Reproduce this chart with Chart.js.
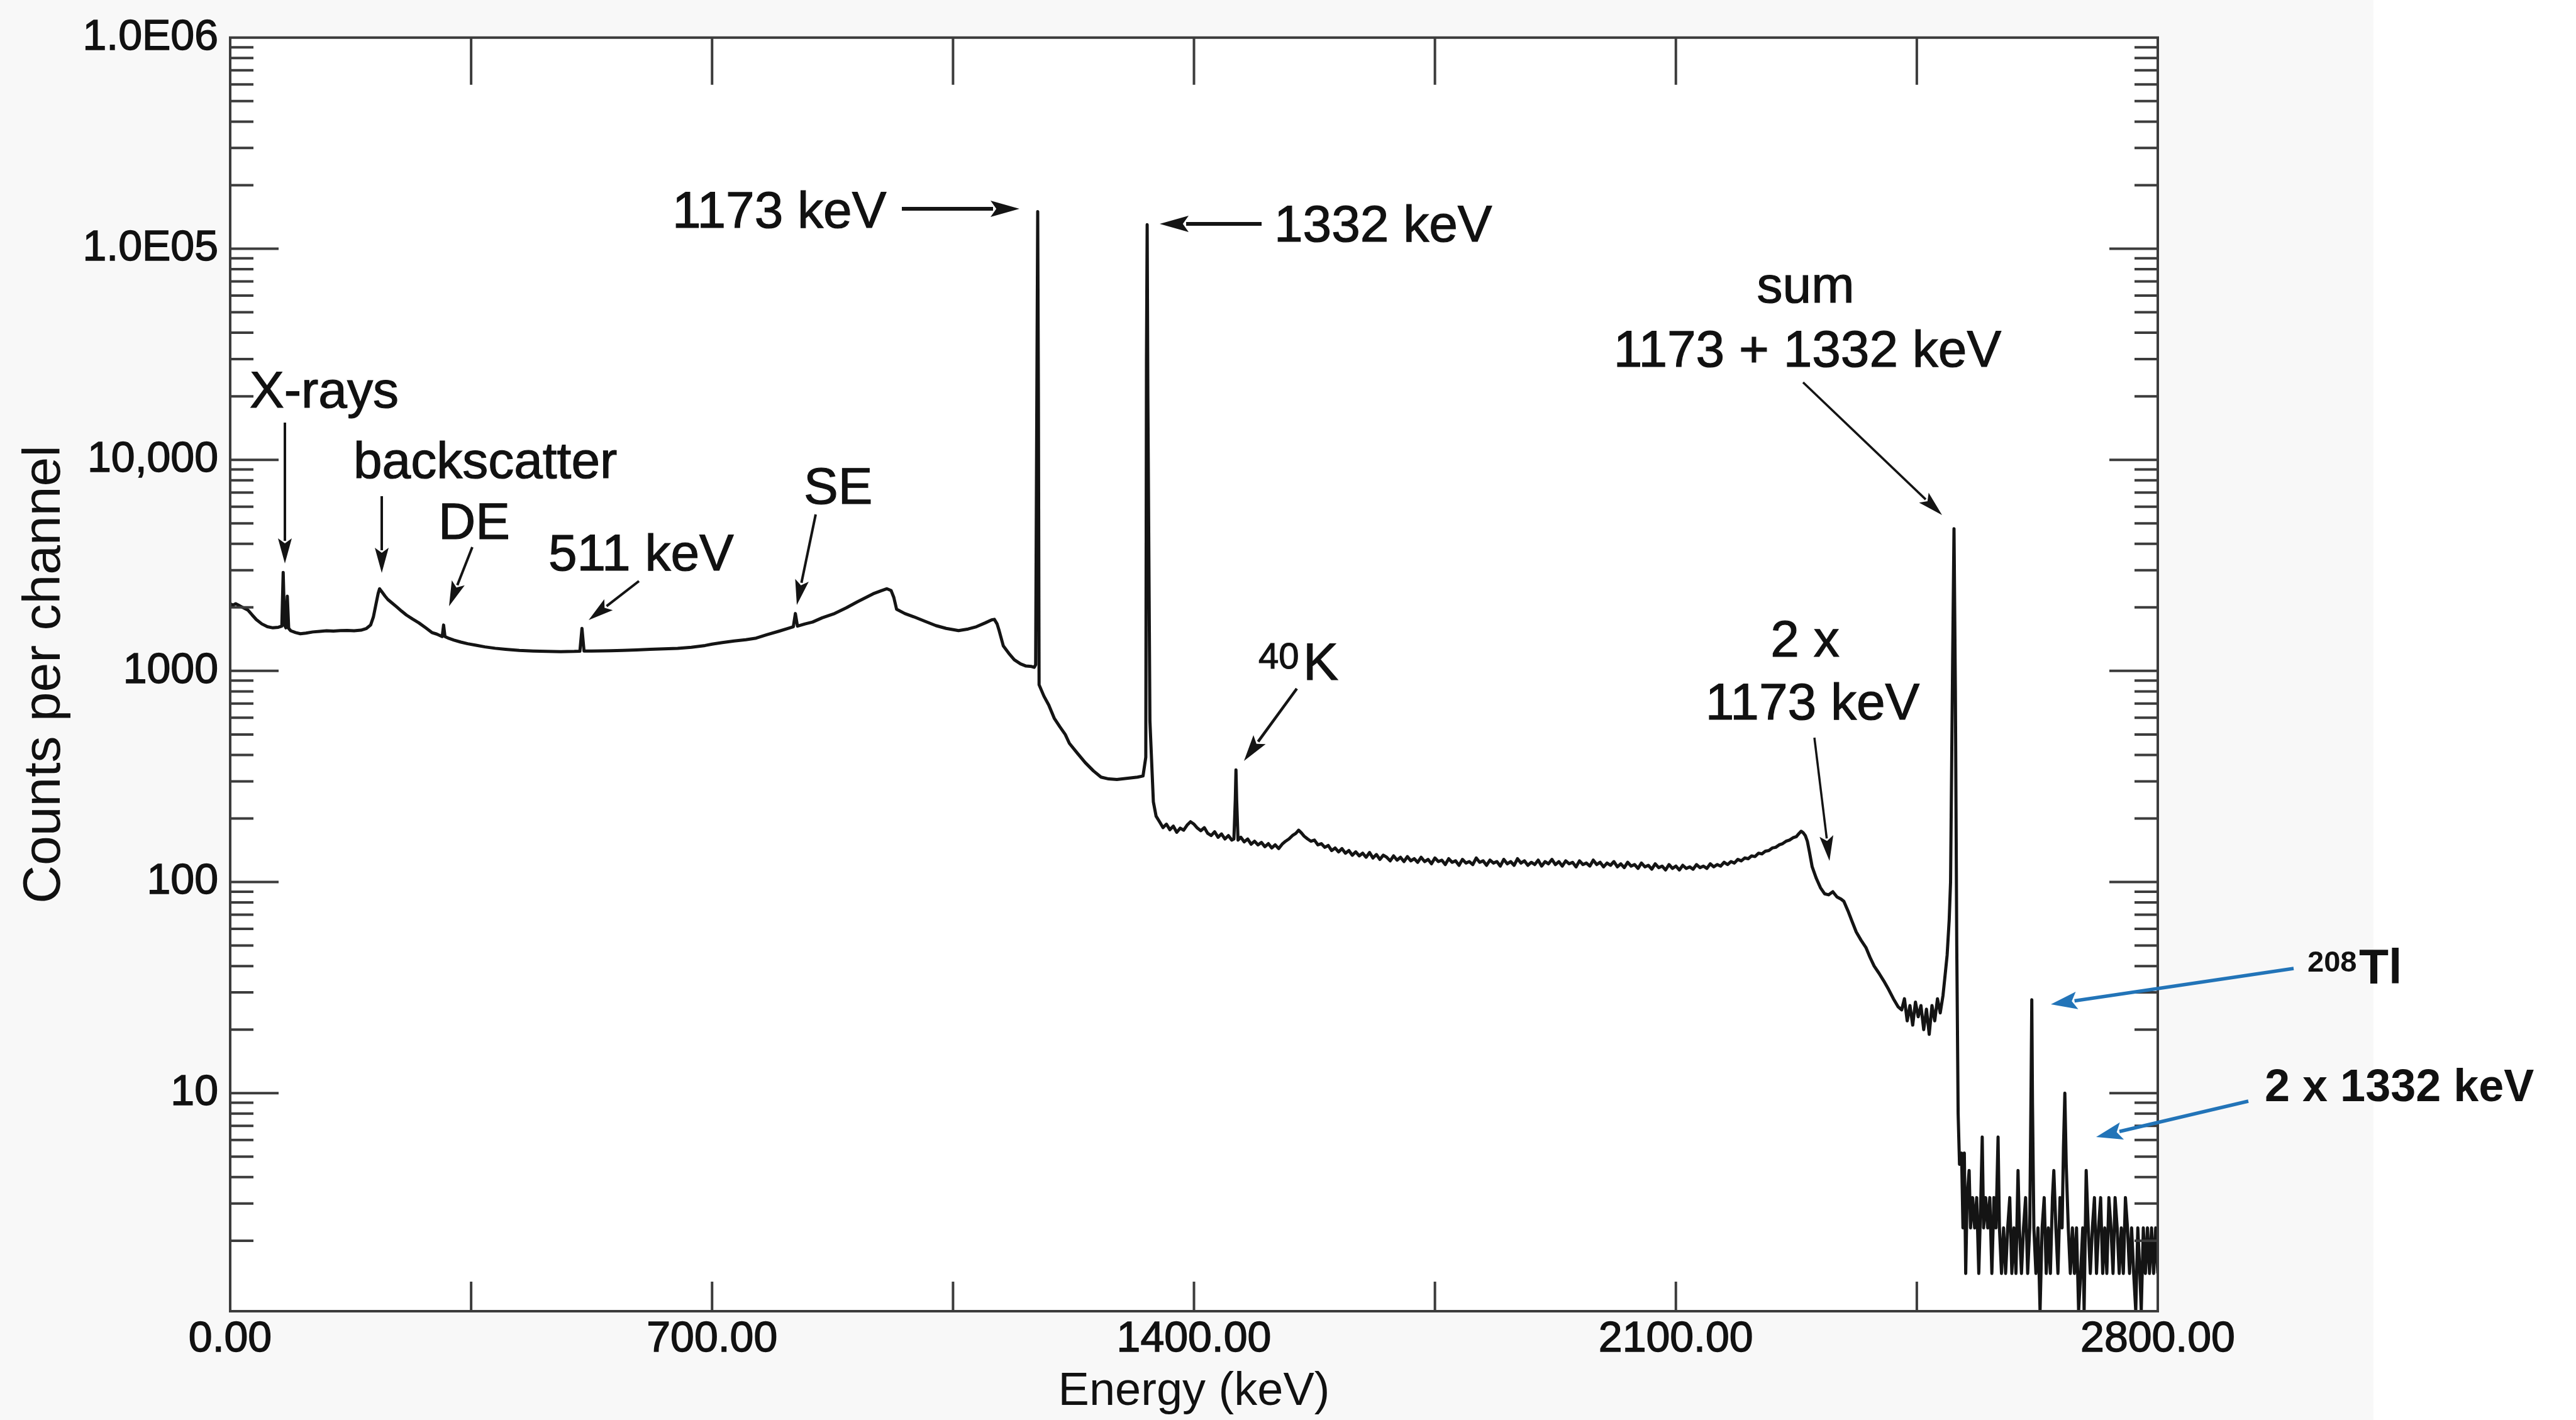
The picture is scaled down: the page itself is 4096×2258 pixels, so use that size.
<!DOCTYPE html>
<html>
<head>
<meta charset="utf-8">
<title>Gamma spectrum</title>
<script src="https://cdn.jsdelivr.net/npm/chart.js@4.4.1/dist/chart.umd.min.js"></script>
<style>
  html, body { margin: 0; padding: 0; background: #fff; }
  canvas { display: block; }
</style>
</head>
<body>
<canvas id="spectrum" width="4096" height="2258" style="width:4096px;height:2258px"></canvas>
<script>
const xTickValues = [0, 700, 1400, 2100, 2800];
const xTickLabels = ['0.00', '700.00', '1400.00', '2100.00', '2800.00'];
const yTickValues = [10, 100, 1000, 10000, 100000, 1000000];
const yTickLabels = ['10', '100', '1000', '10,000', '1.0E05', '1.0E06'];

// [energy keV, counts per channel]
const comptonRegion = [
  [0, 2080], [4, 2050], [8, 2080], [12, 2050], [18, 2000], [26, 1940], [32, 1840], [38, 1750],
  [46, 1670], [54, 1620], [62, 1600], [70, 1610], [75, 1630], [77, 2930], [79, 1650], [81, 1600],
  [83, 2260], [85, 1590], [88, 1550], [95, 1520], [102, 1500], [110, 1510], [120, 1530], [130, 1540],
  [140, 1550], [150, 1545], [160, 1552], [170, 1556], [180, 1550], [190, 1560], [198, 1590], [204, 1650],
  [208, 1800], [212, 2090], [215, 2330], [217, 2450], [220, 2380], [225, 2260], [229, 2180], [235, 2100],
  [242, 2010], [249, 1920], [256, 1840], [265, 1760], [274, 1690], [284, 1600], [293, 1520], [300, 1495],
  [306, 1465], [308, 1455], [310, 1650], [312, 1455], [318, 1425], [325, 1400], [335, 1370], [345, 1345],
  [357, 1323], [370, 1300], [385, 1280], [400, 1266], [420, 1251], [440, 1242], [460, 1237], [480, 1234],
  [500, 1237], [508, 1240], [511, 1590], [514, 1242], [525, 1242], [540, 1245], [553, 1247], [570, 1251],
  [590, 1258], [610, 1266], [630, 1273], [650, 1280], [670, 1295], [690, 1320], [700, 1340], [715, 1363],
  [732, 1387], [749, 1406], [764, 1430], [780, 1485], [797, 1542], [810, 1590], [818, 1620], [821, 1870],
  [824, 1630], [835, 1670], [846, 1705], [860, 1785], [878, 1870], [895, 1990], [911, 2125], [925, 2240],
  [934, 2320], [945, 2395], [954, 2450], [960, 2405], [964, 2230], [968, 1960], [980, 1870], [993, 1805],
  [1010, 1715], [1025, 1640], [1040, 1590], [1058, 1552], [1072, 1580], [1084, 1620], [1097, 1690], [1106, 1745],
  [1110, 1755], [1114, 1670], [1117, 1552], [1123, 1315], [1131, 1212], [1139, 1130], [1148, 1080], [1156, 1055],
  [1164, 1050], [1168, 1040]
];

const photopeakRegion = [
  [1170, 1070], [1172, 30000], [1173, 150000], [1174, 20000], [1175, 860], [1182, 760], [1189, 690], [1197, 597],
  [1205, 545], [1213, 500], [1219, 454], [1230, 410], [1242, 368], [1254, 336], [1265, 314], [1276, 308],
  [1288, 306], [1300, 309], [1310, 312], [1318, 314], [1326, 318], [1330, 390], [1331, 30000], [1332, 130000],
  [1333, 20000], [1336, 580], [1341, 240]
];

const continuumRegion = [
  [1345, 205], [1350, 193], [1355, 181], [1360, 188], [1365, 177], [1370, 184], [1375, 172], [1380, 180],
  [1385, 176], [1390, 186], [1395, 193], [1400, 188], [1405, 180], [1410, 175], [1415, 181], [1420, 170],
  [1425, 166], [1430, 173], [1435, 163], [1440, 169], [1445, 160], [1450, 166], [1455, 158], [1458, 160],
  [1460, 245], [1461, 340], [1462, 245], [1464, 158], [1468, 163], [1473, 155], [1478, 160], [1483, 151],
  [1488, 156], [1493, 150], [1498, 154], [1503, 147], [1508, 152], [1513, 145], [1518, 150], [1523, 144],
  [1528, 151], [1533, 156], [1538, 160], [1543, 166], [1548, 170], [1552, 176], [1556, 171], [1560, 165],
  [1565, 160], [1570, 156], [1575, 158], [1580, 150], [1585, 152], [1590, 146], [1595, 149], [1600, 141],
  [1605, 145], [1610, 139], [1615, 144], [1620, 137], [1625, 141], [1630, 134], [1635, 139], [1640, 133],
  [1645, 137], [1650, 131], [1655, 138], [1660, 130], [1665, 135], [1670, 128], [1675, 134], [1680, 131],
  [1685, 126], [1690, 133], [1695, 127], [1700, 131], [1705, 125], [1710, 132], [1715, 126], [1720, 129],
  [1725, 124], [1730, 131], [1735, 125], [1740, 128], [1745, 122], [1750, 130], [1755, 125], [1760, 127],
  [1765, 121], [1770, 129], [1775, 124], [1780, 126], [1785, 120], [1790, 128], [1795, 123], [1800, 125],
  [1805, 121], [1810, 130], [1815, 124], [1820, 126], [1825, 120], [1830, 127], [1835, 123], [1840, 125],
  [1845, 119], [1850, 128], [1855, 122], [1860, 125], [1865, 120], [1870, 129], [1875, 123], [1880, 126],
  [1885, 120], [1890, 124], [1895, 121], [1900, 127], [1905, 119], [1910, 125], [1915, 122], [1920, 128],
  [1925, 121], [1930, 125], [1935, 119], [1940, 126], [1945, 122], [1950, 124], [1955, 118], [1960, 126],
  [1965, 121], [1970, 123], [1975, 119], [1980, 127], [1985, 121], [1990, 124], [1995, 118], [2000, 123],
  [2005, 120], [2010, 125], [2015, 118], [2020, 122], [2025, 117], [2030, 124], [2035, 119], [2040, 121],
  [2045, 116], [2050, 123], [2055, 118], [2060, 120], [2065, 115], [2070, 122], [2075, 117], [2080, 119],
  [2085, 114], [2090, 121], [2095, 116], [2100, 119], [2105, 114], [2110, 120], [2115, 116], [2120, 118],
  [2125, 115], [2130, 121], [2135, 117], [2140, 119], [2145, 116], [2150, 122], [2155, 118], [2160, 121],
  [2165, 119], [2170, 124], [2175, 121], [2180, 125], [2185, 123], [2190, 128], [2195, 126], [2200, 130],
  [2205, 129], [2210, 133], [2215, 132], [2220, 137], [2225, 136], [2230, 140], [2235, 141], [2240, 145],
  [2245, 146], [2250, 150], [2255, 152], [2260, 156], [2265, 158], [2270, 162], [2275, 164], [2279, 170],
  [2282, 174], [2285, 171], [2288, 166], [2291, 156], [2294, 139]
];

const sumRegion = [
  [2298, 118], [2304, 104], [2310, 94], [2316, 88], [2322, 87], [2328, 90], [2334, 85], [2340, 83],
  [2344, 81], [2350, 73], [2356, 65], [2362, 58], [2369, 53], [2376, 49], [2382, 44], [2388, 40],
  [2395, 37], [2402, 34], [2409, 31], [2416, 28], [2423, 25.6], [2428, 24.8], [2432, 28], [2436, 22],
  [2440, 26], [2444, 21], [2448, 27], [2452, 23], [2456, 26], [2460, 20], [2464, 25], [2468, 19],
  [2472, 26], [2476, 22], [2480, 28], [2484, 24], [2488, 29], [2491, 36], [2494, 45], [2497, 66],
  [2499, 100], [2502, 1100], [2504, 4720], [2506, 800], [2508, 50], [2510, 8]
];

const tailRegion = [
  [2512, 4.6], [2515, 5.2], [2517, 2.3], [2519, 5.2], [2521, 1.4], [2523, 3.2], [2526, 4.3], [2528, 2.3],
  [2531, 3.2], [2534, 2.3], [2537, 3.2], [2540, 1.4], [2543, 3.2], [2545, 6.2], [2547, 2.3], [2550, 3.2],
  [2553, 2.3], [2556, 3.2], [2559, 1.4], [2562, 3.2], [2565, 2.3], [2568, 6.2], [2570, 2.3], [2573, 1.4],
  [2576, 2.3], [2579, 1.4], [2582, 2.3], [2585, 3.2], [2588, 1.4], [2591, 2.3], [2594, 1.4], [2597, 4.3],
  [2599, 2.3], [2602, 1.4], [2605, 2.3], [2608, 3.2], [2611, 1.4], [2614, 2.3], [2616, 11], [2617, 27.7],
  [2618, 9], [2620, 2.3], [2623, 1.4], [2626, 2.3], [2629, 0.93], [2632, 2.3], [2635, 3.2], [2638, 1.4],
  [2641, 2.3], [2644, 1.4], [2647, 3.2], [2649, 4.3], [2652, 2.3], [2655, 1.4], [2658, 3.2], [2661, 2.3],
  [2663, 5.5], [2665, 10], [2667, 4.6], [2670, 2.3], [2673, 1.4], [2676, 2.3], [2679, 1.4], [2682, 2.3],
  [2685, 0.93], [2688, 1.4], [2691, 2.3], [2693, 0.93], [2696, 4.3], [2699, 2.3], [2702, 1.4], [2705, 2.3],
  [2708, 3.2], [2711, 1.4], [2714, 2.3], [2717, 3.2], [2720, 1.4], [2723, 2.3], [2726, 1.4], [2729, 3.2],
  [2732, 2.3], [2735, 1.4], [2738, 3.2], [2741, 2.3], [2744, 1.4], [2747, 2.3], [2750, 1.4], [2753, 3.2],
  [2756, 2.3], [2759, 1.4], [2762, 2.3], [2765, 1.4], [2768, 0.93], [2771, 2.3], [2774, 1.4], [2776, 0.93],
  [2779, 2.3], [2782, 1.4], [2785, 2.3], [2788, 1.4], [2791, 2.3], [2794, 1.4], [2797, 2.3], [2800, 1.4]
];

const spectrum = [].concat(comptonRegion, photopeakRegion, continuumRegion, sumRegion, tailRegion)
  .map(([x, y]) => ({ x, y }));

const FONT = '"Liberation Sans", Arial, Helvetica, sans-serif';
const INK = '#141414';
const BLUE = '#2274b8';

// annotation text, canvas pixels
const notes = [
  { text: '1173 keV', x: 1069, y: 362, size: 82 },
  { text: '1332 keV', x: 2026, y: 384, size: 82 },
  { text: 'sum', x: 2871, y: 481, size: 82, align: 'center' },
  { text: '1173 + 1332 keV', x: 2874, y: 583, size: 82, align: 'center' },
  { text: '2 x', x: 2870, y: 1044, size: 82, align: 'center' },
  { text: '1173 keV', x: 2882, y: 1144, size: 82, align: 'center' },
  { text: 'X-rays', x: 397, y: 648, size: 82 },
  { text: 'backscatter', x: 562, y: 760, size: 82 },
  { text: 'DE', x: 697, y: 857, size: 82 },
  { text: '511 keV', x: 872, y: 907, size: 82 },
  { text: 'SE', x: 1278, y: 801, size: 82 },
  { text: '40', x: 2001, y: 1063, size: 58 },
  { text: 'K', x: 2072, y: 1081, size: 84 },
  { text: '208', x: 3669, y: 1545, size: 47, bold: true },
  { text: 'Tl', x: 3751, y: 1564, size: 77, bold: true },
  { text: '2 x 1332 keV', x: 3601, y: 1751, size: 72, bold: true }
];

const pointers = [
  { from: [1434, 332], to: [1621, 332], width: 6, head: 46, half: 13 },
  { from: [2006, 356], to: [1844, 356], width: 6, head: 46, half: 13 },
  { from: [2867, 608], to: [3088, 819], width: 3.5, head: 40, half: 11 },
  { from: [2885, 1173], to: [2909, 1369], width: 3.5, head: 40, half: 11 },
  { from: [453, 672], to: [453, 896], width: 4, head: 40, half: 11 },
  { from: [607, 789], to: [607, 911], width: 4, head: 40, half: 11 },
  { from: [751, 870], to: [714, 964], width: 4, head: 40, half: 11 },
  { from: [1016, 924], to: [936, 986], width: 4, head: 40, half: 11 },
  { from: [1297, 818], to: [1267, 962], width: 4, head: 40, half: 11 },
  { from: [2062, 1095], to: [1978, 1210], width: 4.5, head: 42, half: 12 },
  { from: [3647, 1540], to: [3261, 1597], width: 5.5, head: 42, half: 14, color: BLUE },
  { from: [3575, 1751], to: [3333, 1808], width: 5.5, head: 42, half: 14, color: BLUE }
];

const backdrop = {
  id: 'backdrop',
  beforeDraw(chart) {
    const { ctx, chartArea: a } = chart;
    ctx.save();
    ctx.fillStyle = '#ffffff';
    ctx.fillRect(0, 0, chart.width, chart.height);
    ctx.fillStyle = '#f8f8f8';
    ctx.fillRect(0, 0, 3774, chart.height);
    ctx.fillStyle = '#ffffff';
    ctx.fillRect(a.left, a.top, a.right - a.left, a.bottom - a.top);
    ctx.restore();
  }
};

// box frame with inward tick marks, like the original plot
const frame = {
  id: 'frame',
  afterDatasetsDraw(chart) {
    const { ctx, chartArea: a, scales: { x, y } } = chart;
    const seg = (x1, y1, x2, y2) => { ctx.beginPath(); ctx.moveTo(x1, y1); ctx.lineTo(x2, y2); ctx.stroke(); };
    ctx.save();
    ctx.strokeStyle = '#3c3c3c';
    ctx.lineWidth = 4;
    for (let d = 0; d < 6; d++) {
      for (let m = 1; m <= 9; m++) {
        if (d === 0 && m === 1) continue;
        const py = y.getPixelForValue(m * Math.pow(10, d));
        const len = m === 1 ? 77 : 37;
        seg(a.left, py, a.left + len, py);
        seg(a.right, py, a.right - len, py);
      }
    }
    for (let v = 350; v < 2800; v += 350) {
      const px = x.getPixelForValue(v);
      seg(px, a.bottom, px, a.bottom - 47);
      seg(px, a.top, px, a.top + 75);
    }
    ctx.strokeRect(a.left, a.top, a.right - a.left, a.bottom - a.top);
    ctx.restore();
  }
};

const annotate = {
  id: 'annotate',
  afterDraw(chart) {
    const ctx = chart.ctx;
    ctx.save();
    notes.forEach(n => {
      ctx.font = (n.bold ? 'bold ' : '') + n.size + 'px ' + FONT;
      ctx.fillStyle = n.color || '#111111';
      ctx.textAlign = n.align || 'left';
      ctx.textBaseline = 'alphabetic';
      ctx.fillText(n.text, n.x, n.y);
      if (!n.bold) {
        ctx.strokeStyle = '#111111';
        ctx.lineWidth = 1.2;
        ctx.strokeText(n.text, n.x, n.y);
      }
    });
    pointers.forEach(p => {
      const [x1, y1] = p.from, [x2, y2] = p.to;
      const len = Math.hypot(x2 - x1, y2 - y1);
      const ux = (x2 - x1) / len, uy = (y2 - y1) / len;
      const bx = x2 - ux * p.head, by = y2 - uy * p.head;
      ctx.strokeStyle = ctx.fillStyle = p.color || INK;
      ctx.lineWidth = p.width;
      ctx.lineCap = 'butt';
      ctx.beginPath();
      ctx.moveTo(x1, y1);
      ctx.lineTo(bx + ux * 4, by + uy * 4);
      ctx.stroke();
      ctx.beginPath();
      ctx.moveTo(x2, y2);
      ctx.lineTo(bx - uy * p.half, by + ux * p.half);
      ctx.lineTo(bx + ux * p.head * 0.2, by + uy * p.head * 0.2);
      ctx.lineTo(bx + uy * p.half, by - ux * p.half);
      ctx.closePath();
      ctx.fill();
    });
    ctx.restore();
  }
};

const ctx = document.getElementById('spectrum').getContext('2d');

new Chart(ctx, {
  type: 'line',
  data: {
    datasets: [{
      data: spectrum,
      borderColor: INK,
      borderWidth: 5,
      borderJoinStyle: 'round',
      pointRadius: 0,
      tension: 0,
      fill: false
    }]
  },
  options: {
    responsive: false,
    animation: false,
    devicePixelRatio: 1,
    layout: { padding: { left: 0, top: 47, right: 665, bottom: 0 } },
    plugins: {
      legend: { display: false },
      tooltip: { enabled: false }
    },
    scales: {
      x: {
        type: 'linear',
        min: 0,
        max: 2800,
        afterBuildTicks: s => { s.ticks = xTickValues.map(v => ({ value: v })); },
        afterFit: s => { s.height = 173; },
        grid: { display: false, drawTicks: false },
        border: { display: false },
        ticks: {
          autoSkip: false,
          maxRotation: 0,
          padding: 4,
          color: '#111111',
          textStrokeColor: '#111111',
          textStrokeWidth: 1.5,
          font: { family: FONT, size: 68 },
          callback: v => xTickLabels[xTickValues.indexOf(v)]
        },
        title: {
          display: true,
          text: 'Energy (keV)',
          color: '#111111',
          font: { family: FONT, size: 74, lineHeight: 1.2 },
          padding: { top: 0, bottom: 0 }
        }
      },
      y: {
        type: 'logarithmic',
        min: 0.927,
        max: 1000000,
        afterBuildTicks: s => { s.ticks = yTickValues.map(v => ({ value: v })); },
        afterFit: s => { s.width = 366; },
        grid: { display: false, drawTicks: false },
        border: { display: false },
        ticks: {
          autoSkip: false,
          padding: 19,
          color: '#111111',
          textStrokeColor: '#111111',
          textStrokeWidth: 1.5,
          font: { family: FONT, size: 68 },
          callback: v => yTickLabels[yTickValues.indexOf(v)]
        },
        title: {
          display: true,
          text: 'Counts per channel',
          color: '#111111',
          font: { family: FONT, size: 84, lineHeight: 1.2 },
          padding: { top: 21, bottom: 0 }
        }
      }
    }
  },
  plugins: [backdrop, frame, annotate]
});
</script>
</body>
</html>
